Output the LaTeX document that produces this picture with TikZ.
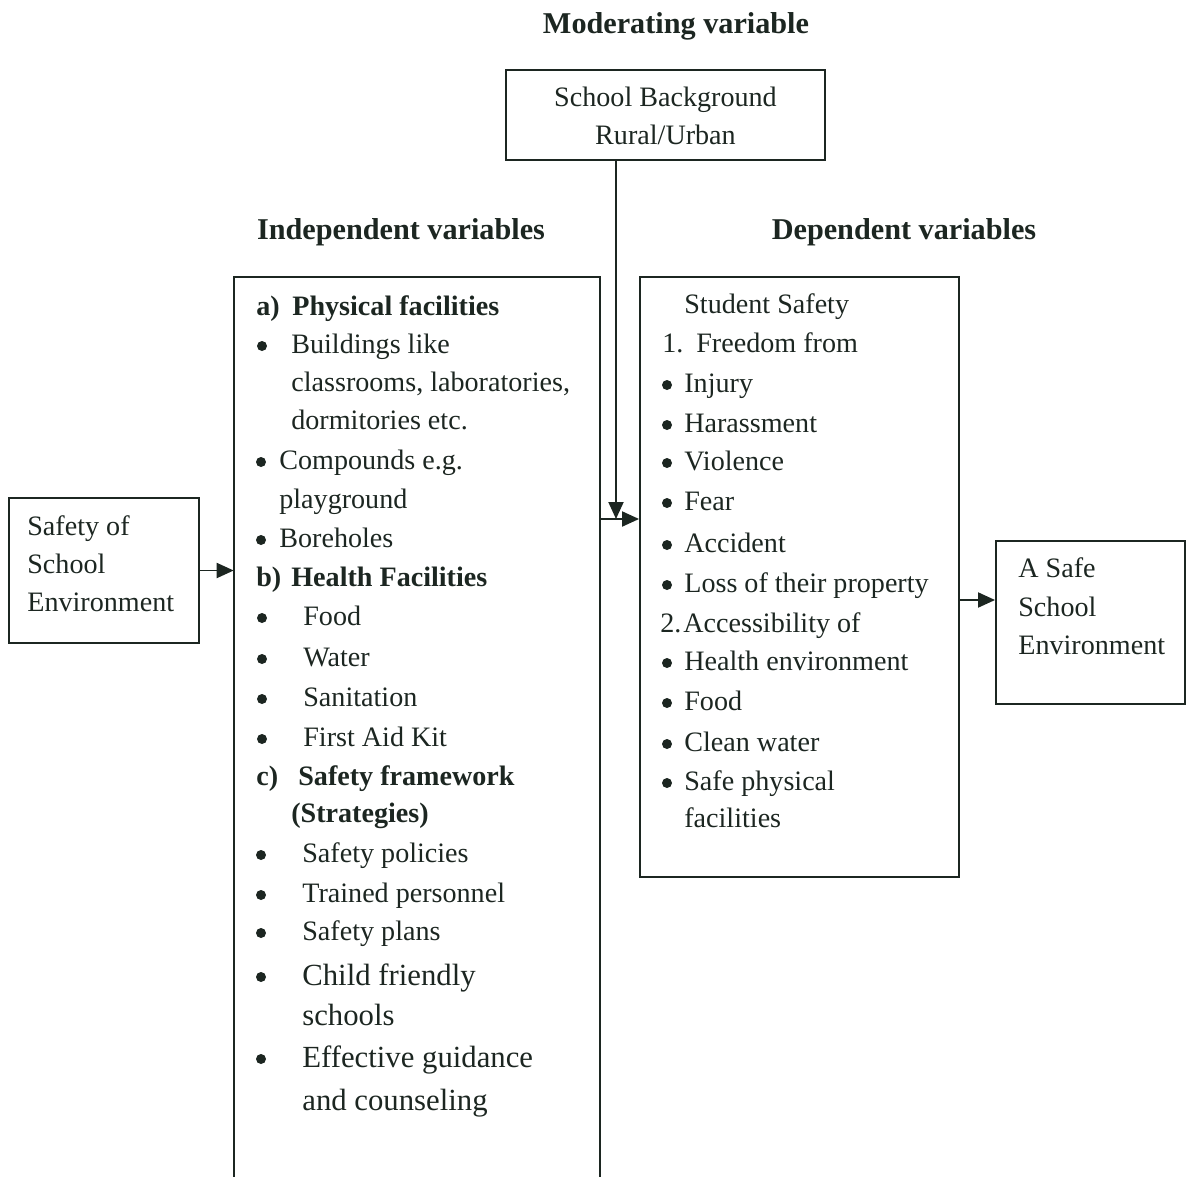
\documentclass[tikz,border=0pt]{standalone}
\usepackage{fontspec}
\setmainfont{Liberation Serif}
\usetikzlibrary{arrows.meta}
\definecolor{ink}{RGB}{28,38,33}
\begin{document}
\begin{tikzpicture}[x=0.02cm,y=-0.02cm,
  box/.style={draw=ink,line width=1.1pt,inner sep=0pt},
  boxline/.style={draw=ink,line width=1.1pt},
  txt/.style={anchor=base west,inner sep=0pt,text=ink,font=\fontsize{16}{19}\selectfont},
  big/.style={anchor=base west,inner sep=0pt,text=ink,font=\fontsize{17.5}{21}\selectfont},
  btxt/.style={anchor=base west,inner sep=0pt,text=ink,font=\fontsize{16}{19}\selectfont\bfseries},
  ctxt/.style={anchor=base,inner sep=0pt,text=ink,font=\fontsize{16}{19}\selectfont},
  ttl/.style={anchor=base,inner sep=0pt,text=ink,font=\fontsize{17.2}{20}\selectfont\bfseries},
  bul/.style={circle,fill=ink,inner sep=0pt,minimum size=0.2cm},
  arr/.style={draw=ink,line width=1.1pt,-{Triangle[length=0.34cm,width=0.3cm]}}]
\useasboundingbox (0,0) rectangle (1188,1177);

% titles
\node[ttl] (tmod) at (676,33) {Moderating variable};
\node[ttl] (tind) at (401,239) {Independent variables};
\node[ttl] (tdep) at (904,239) {Dependent variables};

% boxes
\node[box,minimum width=6.38cm,minimum height=1.8cm] (mod) at (665.5,115) {};
\node[box,minimum width=3.8cm,minimum height=2.9cm] (left) at (104,570.5) {};
\node[inner sep=0pt,minimum width=7.32cm,minimum height=18.2cm] (ind) at (417,732) {};
\draw[boxline] (ind.south west) |- (ind.north east) -- (ind.south east);
\node[box,minimum width=6.38cm,minimum height=12cm] (dep) at (799.5,577) {};
\node[box,minimum width=3.78cm,minimum height=3.26cm] (safe) at (1090.5,622.5) {};

% moderating text
\node[ctxt] (m1) at (665.5,106) {School Background};
\node[ctxt] (m2) at (665.5,144) {Rural/Urban};

% left box text
\node[txt] (l1) at (27,535) {Safety of};
\node[txt] (l2) at (27,573) {School};
\node[txt] (l3) at (27,611) {Environment};

% right box text
\node[txt] (r1) at (1018,577) {A Safe};
\node[txt] (r2) at (1018,616) {School};
\node[txt] (r3) at (1018,654) {Environment};

% independent box text
\node[btxt] (ia) at (256,315) {a)};
\node[btxt] (ia1) at (292,315) {Physical facilities};
\node[bul] (ib1) at (262,346) {};
\node[txt] (i1) at (291,353) {Buildings like};
\node[txt] (i2) at (291,391) {classrooms, laboratories,};
\node[txt] (i3) at (291,429) {dormitories etc.};
\node[bul] (ib2) at (261,462) {};
\node[txt] (i4) at (279,469) {Compounds e.g.};
\node[txt] (i5) at (279,508) {playground};
\node[bul] (ib3) at (261,540) {};
\node[txt] (i6) at (279,547) {Boreholes};
\node[btxt] (ib) at (256,586) {b)};
\node[btxt] (ib0) at (291,586) {Health Facilities};
\node[bul] (ib4) at (262,618) {};
\node[txt] (i7) at (303,625) {Food};
\node[bul] (ib5) at (262,659) {};
\node[txt] (i8) at (303,666) {Water};
\node[bul] (ib6) at (262,699) {};
\node[txt] (i9) at (303,706) {Sanitation};
\node[bul] (ib7) at (262,739) {};
\node[txt] (i10) at (303,746) {First Aid Kit};
\node[btxt] (ic) at (256,785) {c)};
\node[btxt] (ic0) at (298,785) {Safety framework};
\node[btxt] (ic1) at (291,822) {(Strategies)};
\node[bul] (ib8) at (261,855) {};
\node[txt] (i11) at (302,862) {Safety policies};
\node[bul] (ib9) at (261,895) {};
\node[txt] (i12) at (302,902) {Trained personnel};
\node[bul] (ib10) at (261,933) {};
\node[txt] (i13) at (302,940) {Safety plans};
\node[bul] (ib11) at (261,977) {};
\node[big] (i14) at (302,985) {Child friendly};
\node[big] (i15) at (302,1025) {schools};
\node[bul] (ib12) at (261,1059) {};
\node[big] (i16) at (302,1067) {Effective guidance};
\node[big] (i17) at (302,1110) {and counseling};

% dependent box text
\node[txt] (d0) at (684,313) {Student Safety};
\node[txt] (dn1) at (662,352) {1.};
\node[txt] (d1) at (696,352) {Freedom from};
\node[bul] (db1) at (667,385) {};
\node[txt] (d2) at (684,392) {Injury};
\node[bul] (db2) at (667,425) {};
\node[txt] (d3) at (684,432) {Harassment};
\node[bul] (db3) at (667,463) {};
\node[txt] (d4) at (684,470) {Violence};
\node[bul] (db4) at (667,503) {};
\node[txt] (d5) at (684,510) {Fear};
\node[bul] (db5) at (667,545) {};
\node[txt] (d6) at (684,552) {Accident};
\node[bul] (db6) at (667,585) {};
\node[txt] (d7) at (684,592) {Loss of their property};
\node[txt] (dn2) at (660,632) {2.};
\node[txt] (d8) at (683,632) {Accessibility of};
\node[bul] (db7) at (667,663) {};
\node[txt] (d9) at (684,670) {Health environment};
\node[bul] (db8) at (667,703) {};
\node[txt] (d10) at (684,710) {Food};
\node[bul] (db9) at (667,744) {};
\node[txt] (d11) at (684,751) {Clean water};
\node[bul] (db10) at (667,783) {};
\node[txt] (d12) at (684,790) {Safe physical};
\node[txt] (d13) at (684,827) {facilities};

% connectors
\coordinate (j) at (616,519);
\coordinate (k) at (959,600);
\draw[arr] (left.east) -- (left.east -| ind.west);
\draw[arr] (ind.east |- j) -- (dep.west |- j);
\draw[arr] (mod.south -| j) -- (j);
\draw[arr] (dep.east |- k) -- (safe.west |- k);
\end{tikzpicture}
\end{document}
